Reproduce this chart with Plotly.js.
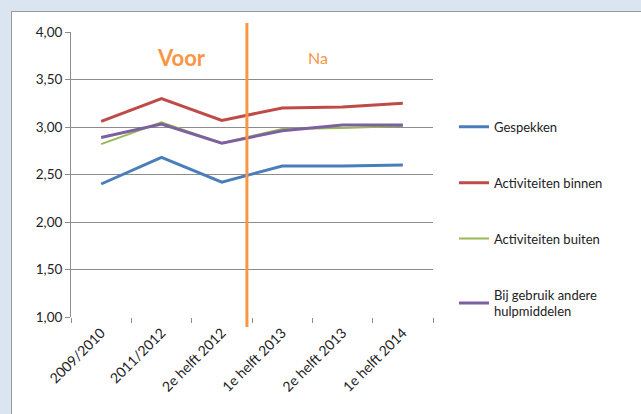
<!DOCTYPE html>
<html><head><meta charset="utf-8">
<script src="https://cdn.plot.ly/plotly-3.0.1.min.js"></script>
<style>
html,body{margin:0;padding:0;background:#dbe5f1;width:641px;height:414px;overflow:hidden;}
#chart{position:absolute;left:11px;top:11px;width:630px;height:403px;border-left:1px solid #9a9a9a;border-top:1px solid #9a9a9a;background:#fff;}
</style></head>
<body><div id="chart"></div>
<script>
const categories = ["2009/2010","2011/2012","2e helft 2012","1e helft 2013","2e helft 2013","1e helft 2014"];
const gespekken = [2.40, 2.68, 2.42, 2.59, 2.59, 2.60];
const activiteitenBinnen = [3.06, 3.30, 3.07, 3.20, 3.21, 3.25];
const activiteitenBuiten = [2.82, 3.05, 2.83, 2.98, 2.99, 3.01];
const andereHulpmiddelen = [2.89, 3.03, 2.83, 2.96, 3.02, 3.02];
const seriesNames = ["Gespekken","Activiteiten binnen","Activiteiten buiten","Bij gebruik andere<br>hulpmiddelen"];
const yTicks = [1,1.5,2,2.5,3,3.5,4];

const colors = ["#4a7ebb","#be4b48","#98b954","#7d60a0"];
const widths = [3,3,2,3];
const allSeries = [gespekken, activiteitenBinnen, activiteitenBuiten, andereHulpmiddelen];
const traces = allSeries.map((vals,i)=>({
  type:'scatter', mode:'lines', x:categories, y:vals, name:seriesNames[i],
  legendgroup:'g'+i, line:{color:colors[i], width:widths[i]}
}));

const layout = {
  width:629, height:402,
  margin:{l:59,r:208,t:20,b:97},
  paper_bgcolor:'#fff', plot_bgcolor:'#fff',
  separators:',.',
  font:{family:'Lato, "Liberation Sans", sans-serif', size:13, color:'#222'},
  showlegend:true,
  legend:{x:1.058, xanchor:'left', y:0.72, yanchor:'top', tracegroupgap:36,
          font:{size:13, color:'#222'}, bgcolor:'rgba(0,0,0,0)'},
  xaxis:{type:'category', range:[-0.5,5.5], tickangle:-45, showgrid:false, showline:false,
         ticks:'outside', tickson:'boundaries', ticklen:5, tickcolor:'#8c8c8c',
         ticklabelstandoff:4, tickfont:{size:14, color:'#222'}, zeroline:false},
  yaxis:{range:[1,4], tickvals:yTicks, tickformat:'.2f', showgrid:true, gridcolor:'#8c8c8c',
         gridwidth:1, showline:true, linecolor:'#8c8c8c', ticks:'outside', ticklen:5,
         tickcolor:'#8c8c8c', tickfont:{size:13.5, color:'#222'}, zeroline:false},
  shapes:[{type:'line', xref:'paper', yref:'paper', x0:0.486, x1:0.486, y0:-0.035, y1:1.032,
           line:{color:'#f79646', width:3}}],
  annotations:[
    {xref:'paper', yref:'paper', x:0.304, y:0.912, xanchor:'center', yanchor:'middle',
     text:'<b>Voor</b>', showarrow:false, font:{size:22, color:'#f79646'}},
    {xref:'paper', yref:'paper', x:0.682, y:0.912, xanchor:'center', yanchor:'middle',
     text:'Na', showarrow:false, font:{size:16, color:'#f79646'}}
  ]
};
Plotly.newPlot('chart', traces, layout, {displayModeBar:false, staticPlot:true});
</script></body></html>
